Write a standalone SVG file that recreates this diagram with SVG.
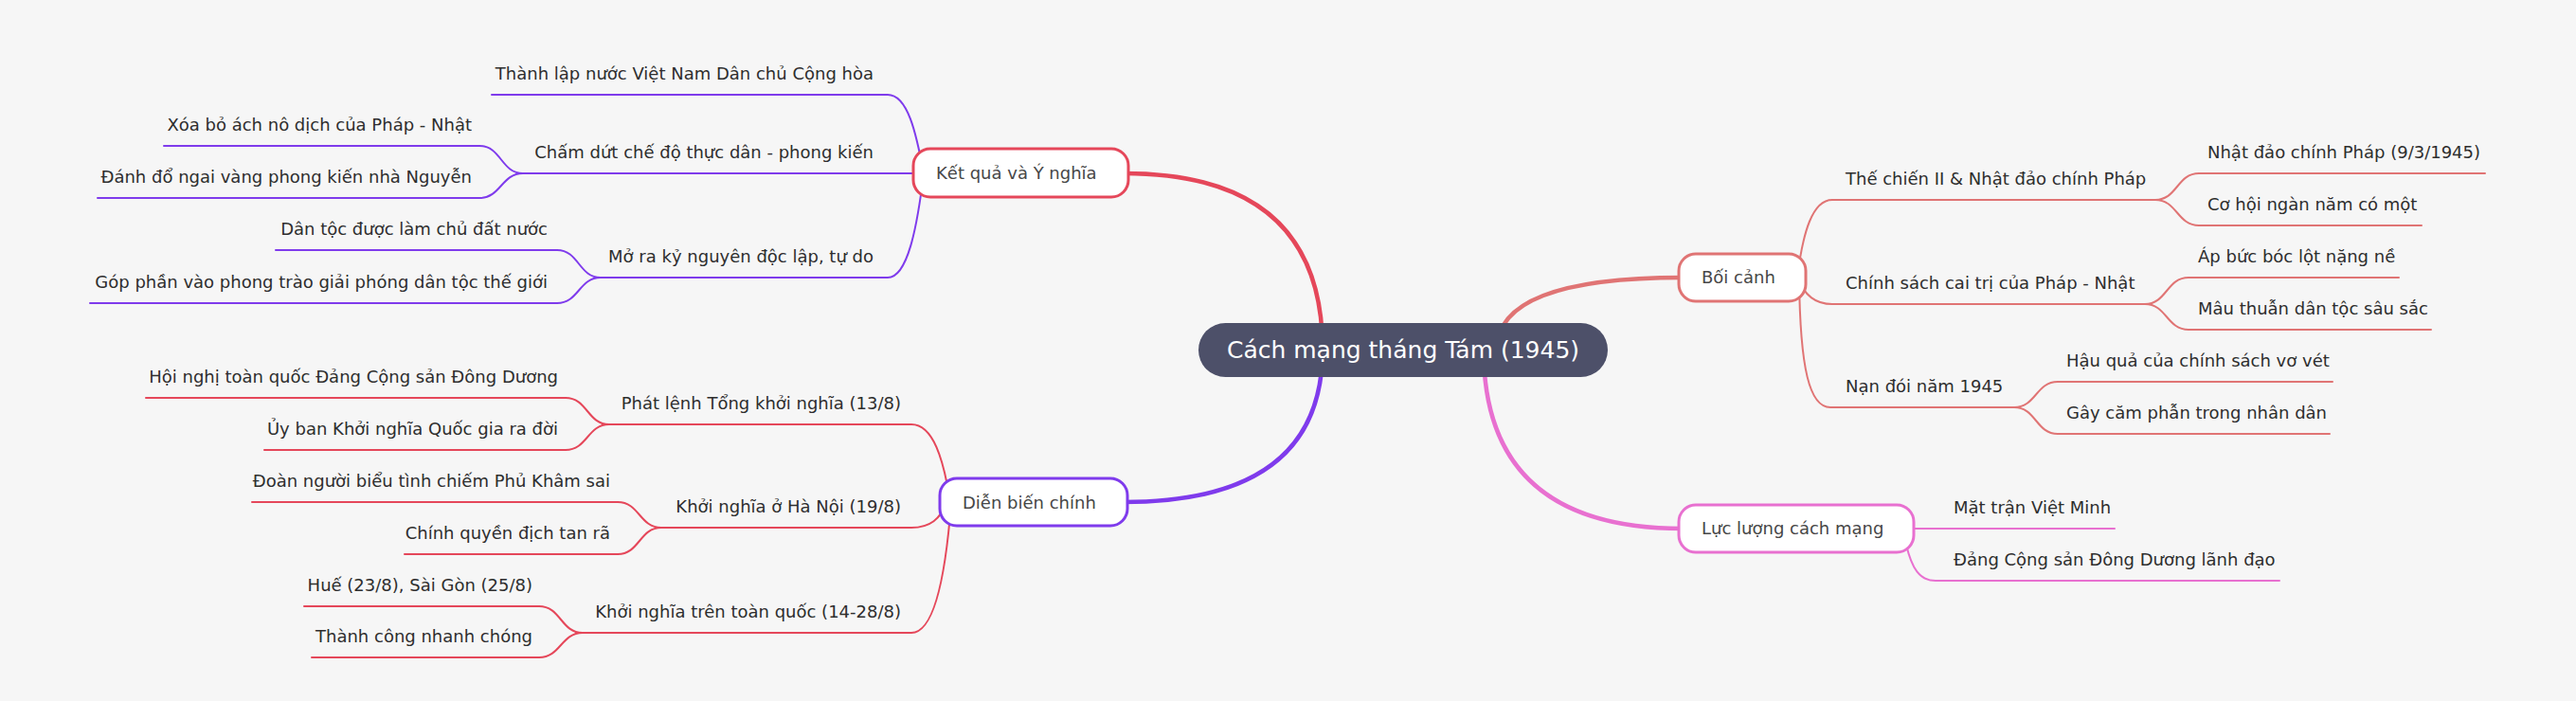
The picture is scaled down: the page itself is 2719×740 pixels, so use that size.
<svg xmlns="http://www.w3.org/2000/svg" width="2719" height="740" viewBox="0 0 2719 740">
<style>
.t{font-family:"DejaVu Sans","Liberation Sans",sans-serif;font-size:18px;fill:#2e2e2e}
.e{text-anchor:end}
.l1{fill:#ffffff;stroke-width:3}
.l1t{font-family:"DejaVu Sans","Liberation Sans",sans-serif;font-size:18px;fill:#474747}
.c{fill:none;stroke-width:2;stroke-linecap:round}
.m{fill:none;stroke-width:4.5;stroke-linecap:round}
.red{stroke:#e5475a}.pur{stroke:#7f3bec}.sal{stroke:#e07474}.pink{stroke:#e870d0}
</style>
<rect width="2719" height="740" fill="#f6f6f6"/>
<g id="connectors">
<path class="m red" d="M1396,369 Q1396,183 1186,183"/>
<path class="m pur" d="M1396,369 Q1396,530 1186,530"/>
<path class="m sal" d="M1580,369 Q1580,293 1776,293"/>
<path class="m pink" d="M1566,369 Q1566,558 1776,558"/>
<path class="c pur" d="M519,100 H937 C958,100 967,140 975,183"/>
<path class="c pur" d="M552,183 H968"/>
<path class="c pur" d="M634,293 H937 C958,293 968,240 975,183"/>
<path class="c pur" d="M173,154 H506 C529,154 529,183 552,183"/>
<path class="c pur" d="M103,209 H506 C529,209 529,183 552,183"/>
<path class="c pur" d="M291,264 H588 C611,264 611,293 634,293"/>
<path class="c pur" d="M95,320 H588 C611,320 611,293 634,293"/>
<path class="c red" d="M643,448 H962 C985,448 996,485 1003,530"/>
<path class="c red" d="M698,557 H962 C982,557 992,548 1000,530"/>
<path class="c red" d="M615,668 H962 C986,668 998,610 1004,530"/>
<path class="c red" d="M154,420 H597 C620,420 620,448 643,448"/>
<path class="c red" d="M279,475 H597 C620,475 620,448 643,448"/>
<path class="c red" d="M266,530 H652 C675,530 675,557 698,557"/>
<path class="c red" d="M427,585 H652 C675,585 675,557 698,557"/>
<path class="c red" d="M321,640 H569 C592,640 592,668 615,668"/>
<path class="c red" d="M329,694 H569 C592,694 592,668 615,668"/>
<path class="c sal" d="M2275,211 H1934 C1913,211 1903,245 1897,293"/>
<path class="c sal" d="M2264,321 H1934 C1916,321 1905,312 1897,293"/>
<path class="c sal" d="M2126,430 H1932 C1910,430 1900,390 1899,293"/>
<path class="c sal" d="M2623,183 H2321 C2298,183 2298,211 2275,211"/>
<path class="c sal" d="M2556,238 H2321 C2298,238 2298,211 2275,211"/>
<path class="c sal" d="M2532,293 H2310 C2287,293 2287,321 2264,321"/>
<path class="c sal" d="M2566,348 H2310 C2287,348 2287,321 2264,321"/>
<path class="c sal" d="M2462,403 H2172 C2149,403 2149,430 2126,430"/>
<path class="c sal" d="M2459,458 H2172 C2149,458 2149,430 2126,430"/>
<path class="c pink" d="M2016,558 H2232"/>
<path class="c pink" d="M2406,613 H2043 C2026,613 2018,600 2012,575"/>
</g>
<g id="root">
<rect x="1265" y="341" width="432" height="57" rx="28.5" fill="#4d5069"/>
<text x="1481" y="378" text-anchor="middle" style="font-family:'DejaVu Sans','Liberation Sans',sans-serif;font-size:25px;fill:#ffffff">Cách mạng tháng Tám (1945)</text>
</g>
<g id="ket-qua">
<rect class="l1 red" x="964" y="157" width="227" height="51" rx="18"/>
<text class="l1t" x="988" y="189">Kết quả và Ý nghĩa</text>
</g>
<g id="dien-bien">
<rect class="l1 pur" x="992" y="505" width="198" height="50" rx="18"/>
<text class="l1t" x="1016" y="537">Diễn biến chính</text>
</g>
<g id="boi-canh">
<rect class="l1 sal" x="1772" y="268" width="134" height="50" rx="18"/>
<text class="l1t" x="1796" y="299">Bối cảnh</text>
</g>
<g id="luc-luong">
<rect class="l1 pink" x="1772" y="533" width="248" height="50" rx="18"/>
<text class="l1t" x="1796" y="564">Lực lượng cách mạng</text>
</g>
<g id="kq-1"><text class="t e" x="922" y="84">Thành lập nước Việt Nam Dân chủ Cộng hòa</text></g>
<g id="kq-2"><text class="t e" x="922" y="167">Chấm dứt chế độ thực dân - phong kiến</text></g>
<g id="kq-2a"><text class="t e" x="498" y="138">Xóa bỏ ách nô dịch của Pháp - Nhật</text></g>
<g id="kq-2b"><text class="t e" x="498" y="193">Đánh đổ ngai vàng phong kiến nhà Nguyễn</text></g>
<g id="kq-3"><text class="t e" x="922" y="277">Mở ra kỷ nguyên độc lập, tự do</text></g>
<g id="kq-3a"><text class="t e" x="578" y="248">Dân tộc được làm chủ đất nước</text></g>
<g id="kq-3b"><text class="t e" x="578" y="304">Góp phần vào phong trào giải phóng dân tộc thế giới</text></g>
<g id="db-1"><text class="t e" x="951" y="432">Phát lệnh Tổng khởi nghĩa (13/8)</text></g>
<g id="db-1a"><text class="t e" x="589" y="404">Hội nghị toàn quốc Đảng Cộng sản Đông Dương</text></g>
<g id="db-1b"><text class="t e" x="589" y="459">Ủy ban Khởi nghĩa Quốc gia ra đời</text></g>
<g id="db-2"><text class="t e" x="951" y="541">Khởi nghĩa ở Hà Nội (19/8)</text></g>
<g id="db-2a"><text class="t e" x="644" y="514">Đoàn người biểu tình chiếm Phủ Khâm sai</text></g>
<g id="db-2b"><text class="t e" x="644" y="569">Chính quyền địch tan rã</text></g>
<g id="db-3"><text class="t e" x="951" y="652">Khởi nghĩa trên toàn quốc (14-28/8)</text></g>
<g id="db-3a"><text class="t e" x="562" y="624">Huế (23/8), Sài Gòn (25/8)</text></g>
<g id="db-3b"><text class="t e" x="562" y="678">Thành công nhanh chóng</text></g>
<g id="bc-1"><text class="t" x="1948" y="195">Thế chiến II &amp; Nhật đảo chính Pháp</text></g>
<g id="bc-1a"><text class="t" x="2330" y="167">Nhật đảo chính Pháp (9/3/1945)</text></g>
<g id="bc-1b"><text class="t" x="2330" y="222">Cơ hội ngàn năm có một</text></g>
<g id="bc-2"><text class="t" x="1948" y="305">Chính sách cai trị của Pháp - Nhật</text></g>
<g id="bc-2a"><text class="t" x="2320" y="277">Áp bức bóc lột nặng nề</text></g>
<g id="bc-2b"><text class="t" x="2320" y="332">Mâu thuẫn dân tộc sâu sắc</text></g>
<g id="bc-3"><text class="t" x="1948" y="414">Nạn đói năm 1945</text></g>
<g id="bc-3a"><text class="t" x="2181" y="387">Hậu quả của chính sách vơ vét</text></g>
<g id="bc-3b"><text class="t" x="2181" y="442">Gây căm phẫn trong nhân dân</text></g>
<g id="ll-1"><text class="t" x="2062" y="542">Mặt trận Việt Minh</text></g>
<g id="ll-2"><text class="t" x="2062" y="597">Đảng Cộng sản Đông Dương lãnh đạo</text></g>
</svg>
